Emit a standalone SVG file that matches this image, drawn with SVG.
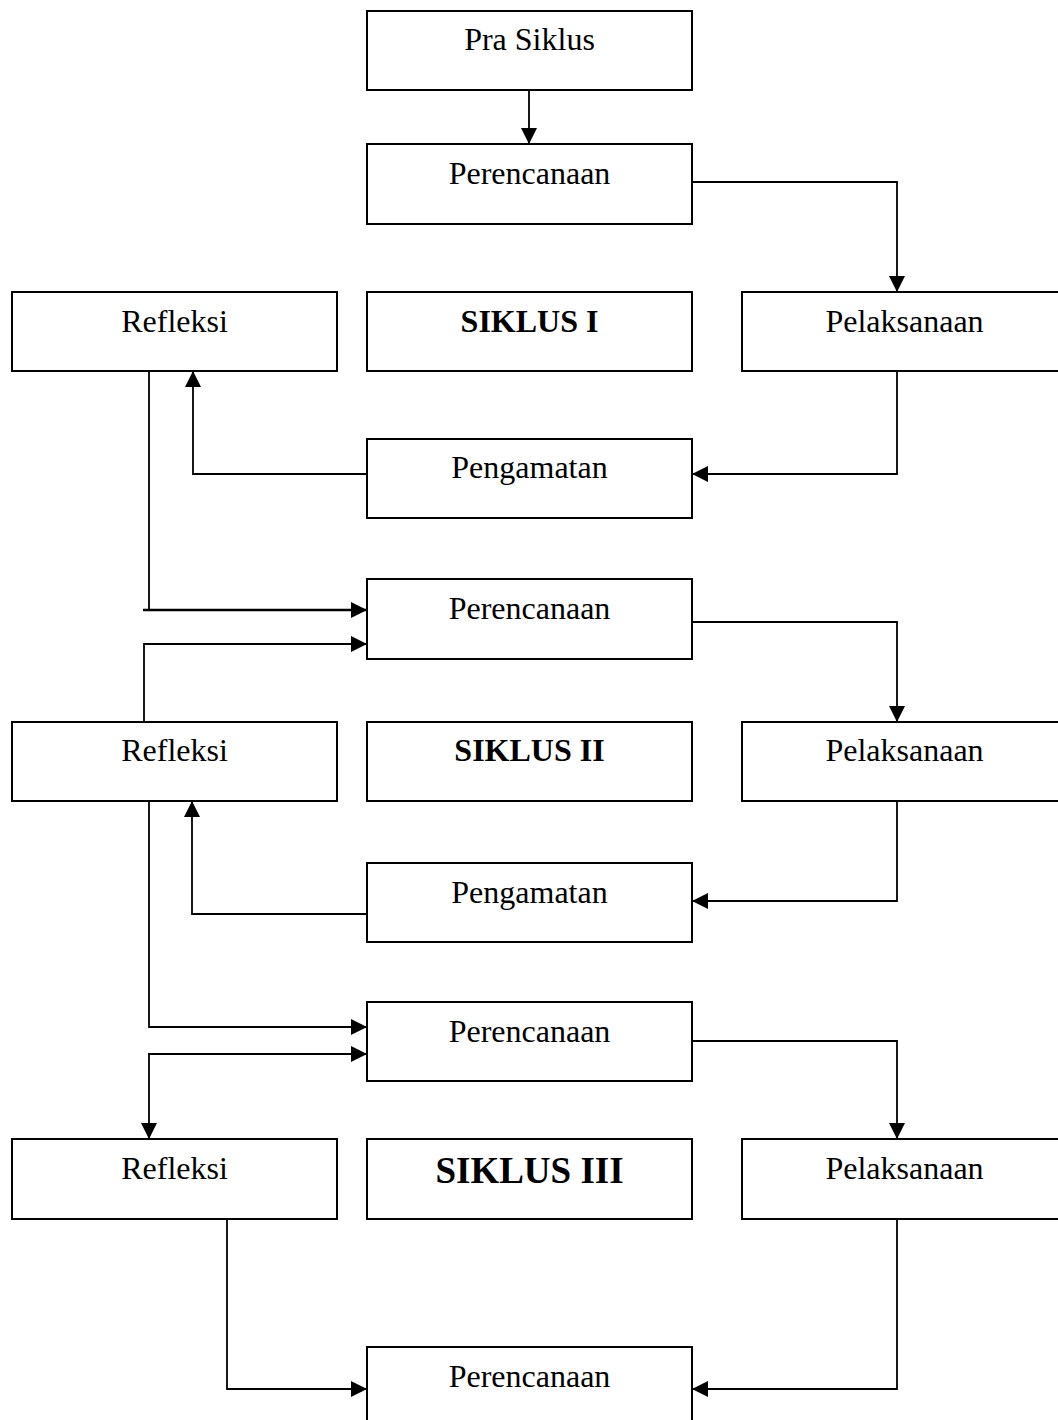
<svg xmlns="http://www.w3.org/2000/svg" width="1058" height="1420" viewBox="0 0 1058 1420">
<style>
.box{fill:#fff;stroke:#000;stroke-width:2}
.t{font-family:"Liberation Serif","Times New Roman",serif;font-size:32px;fill:#000;text-anchor:middle}
.b{font-weight:bold}
.c{fill:none;stroke:#000;stroke-width:1.8}
</style>
<defs>
<marker id="ah" markerUnits="userSpaceOnUse" markerWidth="17" markerHeight="17" viewBox="0 0 17 17" refX="16" refY="8" orient="auto-start-reverse">
<path d="M0,0 L16,8 L0,16 z" fill="#000"/>
</marker>
</defs>
<rect width="1058" height="1420" fill="#fff"/>
<g id="connectors">
<path class="c" d="M529,90 V144" marker-end="url(#ah)"/>
<path class="c" d="M692,182 H897 V292" marker-end="url(#ah)"/>
<path class="c" d="M897,371 V474 H692" marker-end="url(#ah)"/>
<path class="c" d="M367,474 H193 V371" marker-end="url(#ah)"/>
<path class="c" d="M149,371 V610"/>
<path class="c" style="stroke-width:2.4" d="M143,610 H367" marker-end="url(#ah)"/>
<path class="c" d="M144,722 V644 H367" marker-end="url(#ah)"/>
<path class="c" d="M692,622 H897 V722" marker-end="url(#ah)"/>
<path class="c" d="M897,801 V901 H692" marker-end="url(#ah)"/>
<path class="c" d="M367,914 H192 V801" marker-end="url(#ah)"/>
<path class="c" d="M149,801 V1027 H367" marker-end="url(#ah)"/>
<path class="c" d="M367,1054 H149 V1139" marker-start="url(#ah)" marker-end="url(#ah)"/>
<path class="c" d="M692,1041 H897 V1139" marker-end="url(#ah)"/>
<path class="c" d="M227,1219 V1389 H367" marker-end="url(#ah)"/>
<path class="c" d="M897,1219 V1389 H692" marker-end="url(#ah)"/>
</g>
<g id="pra-siklus"><rect class="box" x="367" y="11" width="325" height="79"/><text class="t" x="529.5" y="50">Pra Siklus</text></g>
<g id="perencanaan-1"><rect class="box" x="367" y="144" width="325" height="80"/><text class="t" x="529.5" y="184">Perencanaan</text></g>
<g id="refleksi-1"><rect class="box" x="12" y="292" width="325" height="79"/><text class="t" x="174.5" y="332">Refleksi</text></g>
<g id="siklus-1"><rect class="box" x="367" y="292" width="325" height="79"/><text class="t b" x="529.5" y="332">SIKLUS I</text></g>
<g id="pelaksanaan-1"><rect class="box" x="742" y="292" width="325" height="79"/><text class="t" x="904.5" y="332">Pelaksanaan</text></g>
<g id="pengamatan-1"><rect class="box" x="367" y="439" width="325" height="79"/><text class="t" x="529.5" y="478">Pengamatan</text></g>
<g id="perencanaan-2"><rect class="box" x="367" y="579" width="325" height="80"/><text class="t" x="529.5" y="619">Perencanaan</text></g>
<g id="refleksi-2"><rect class="box" x="12" y="722" width="325" height="79"/><text class="t" x="174.5" y="761">Refleksi</text></g>
<g id="siklus-2"><rect class="box" x="367" y="722" width="325" height="79"/><text class="t b" x="529.5" y="761">SIKLUS II</text></g>
<g id="pelaksanaan-2"><rect class="box" x="742" y="722" width="325" height="79"/><text class="t" x="904.5" y="761">Pelaksanaan</text></g>
<g id="pengamatan-2"><rect class="box" x="367" y="863" width="325" height="79"/><text class="t" x="529.5" y="903">Pengamatan</text></g>
<g id="perencanaan-3"><rect class="box" x="367" y="1002" width="325" height="79"/><text class="t" x="529.5" y="1042">Perencanaan</text></g>
<g id="refleksi-3"><rect class="box" x="12" y="1139" width="325" height="80"/><text class="t" x="174.5" y="1179">Refleksi</text></g>
<g id="siklus-3"><rect class="box" x="367" y="1139" width="325" height="80"/><text class="t b" x="529.5" y="1183" style="font-size:37px">SIKLUS III</text></g>
<g id="pelaksanaan-3"><rect class="box" x="742" y="1139" width="325" height="80"/><text class="t" x="904.5" y="1179">Pelaksanaan</text></g>
<g id="perencanaan-4"><rect class="box" x="367" y="1347" width="325" height="80"/><text class="t" x="529.5" y="1387">Perencanaan</text></g>
</svg>
